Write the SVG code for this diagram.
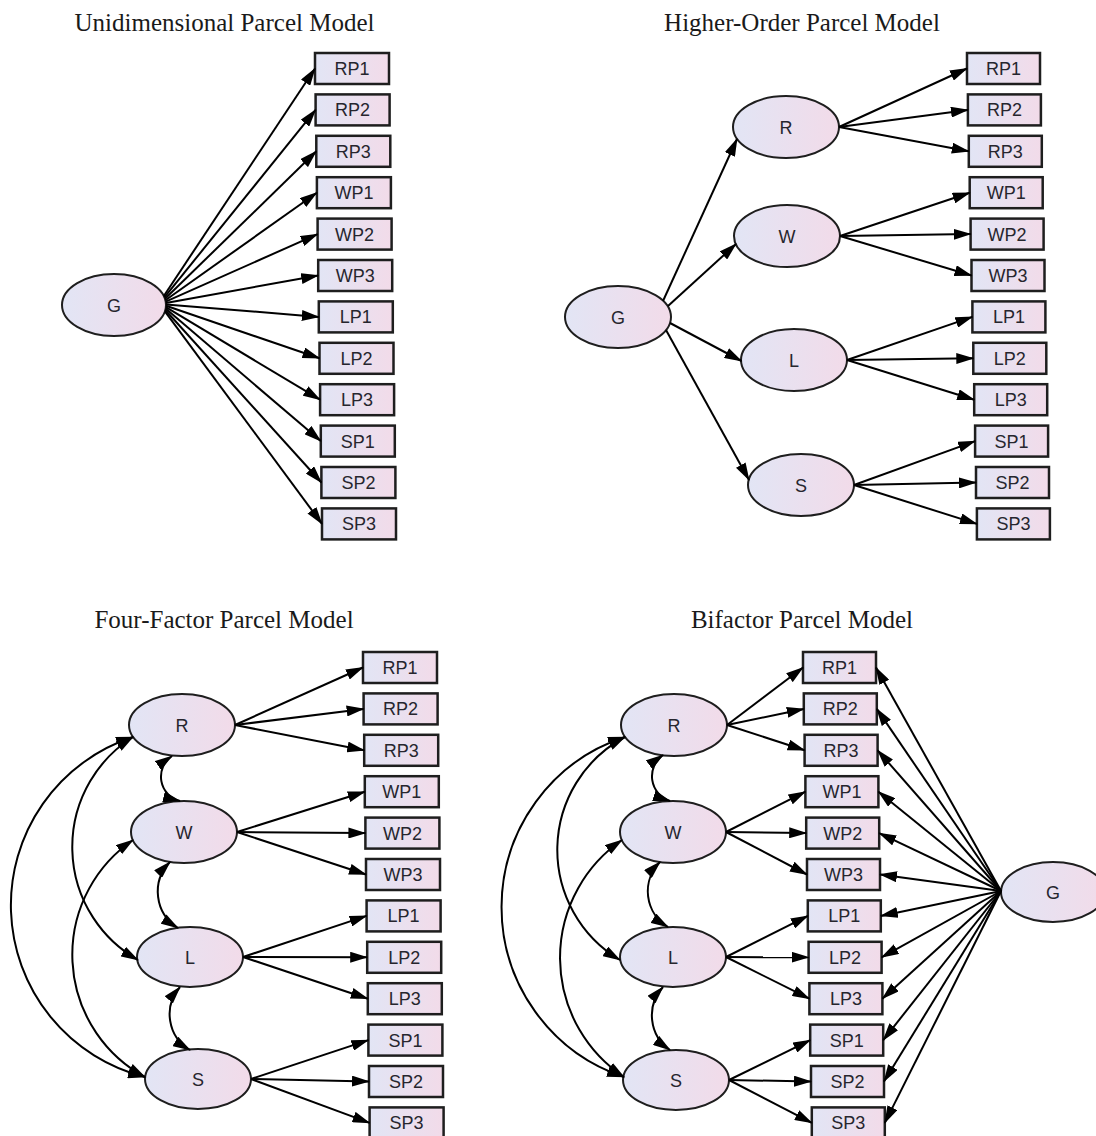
<svg xmlns="http://www.w3.org/2000/svg" width="1096" height="1136" viewBox="0 0 1096 1136">
<defs>
<linearGradient id="g" x1="0" y1="0" x2="1" y2="0">
<stop offset="0" stop-color="#e2e5f5"/>
<stop offset="1" stop-color="#f2dbe9"/>
</linearGradient>
<marker id="ah" markerUnits="userSpaceOnUse" markerWidth="18" markerHeight="11" refX="17" refY="5.5" orient="auto-start-reverse" viewBox="0 0 18 11">
<path d="M0,0 L18,5.5 L0,11 z" fill="#000"/>
</marker>
<style>
.box{fill:url(#g);stroke:#1e1e1e;stroke-width:2.5}
.lat{fill:url(#g);stroke:#1e1e1e;stroke-width:2}
.lbl{font-family:"Liberation Sans",Arial,sans-serif;font-size:18px;fill:#26262e;text-anchor:middle}
.title{font-family:"Liberation Serif","Times New Roman",serif;font-size:25px;fill:#1a1a1a;text-anchor:middle}
.arr{fill:none;stroke:#000;stroke-width:2;marker-end:url(#ah)}
.cov{fill:none;stroke:#000;stroke-width:2;marker-start:url(#ah);marker-end:url(#ah)}
</style>
</defs>
<rect width="1096" height="1136" fill="#fff"/>

<text class="title" x="224.5" y="31">Unidimensional Parcel Model</text>
<text class="title" x="802" y="31">Higher-Order Parcel Model</text>
<text class="title" x="224" y="628">Four-Factor Parcel Model</text>
<text class="title" x="802" y="628">Bifactor Parcel Model</text>

<!-- Q1 nodes -->
<g id="q1-G"><ellipse class="lat" cx="114" cy="305" rx="52" ry="31"/><text class="lbl" x="114" y="311.5">G</text></g>
<g id="q1-RP1"><rect class="box" x="315" y="53" width="74" height="31"/><text class="lbl" x="352" y="75">RP1</text></g>
<g id="q1-RP2"><rect class="box" x="315.6" y="94.4" width="74" height="31"/><text class="lbl" x="352.6" y="116.4">RP2</text></g>
<g id="q1-RP3"><rect class="box" x="316.3" y="135.8" width="74" height="31"/><text class="lbl" x="353.3" y="157.8">RP3</text></g>
<g id="q1-WP1"><rect class="box" x="316.9" y="177.2" width="74" height="31"/><text class="lbl" x="353.9" y="199.2">WP1</text></g>
<g id="q1-WP2"><rect class="box" x="317.6" y="218.6" width="74" height="31"/><text class="lbl" x="354.6" y="240.6">WP2</text></g>
<g id="q1-WP3"><rect class="box" x="318.2" y="260" width="74" height="31"/><text class="lbl" x="355.2" y="282">WP3</text></g>
<g id="q1-LP1"><rect class="box" x="318.8" y="301.4" width="74" height="31"/><text class="lbl" x="355.8" y="323.4">LP1</text></g>
<g id="q1-LP2"><rect class="box" x="319.5" y="342.8" width="74" height="31"/><text class="lbl" x="356.5" y="364.8">LP2</text></g>
<g id="q1-LP3"><rect class="box" x="320.1" y="384.2" width="74" height="31"/><text class="lbl" x="357.1" y="406.2">LP3</text></g>
<g id="q1-SP1"><rect class="box" x="320.8" y="425.6" width="74" height="31"/><text class="lbl" x="357.8" y="447.6">SP1</text></g>
<g id="q1-SP2"><rect class="box" x="321.4" y="467" width="74" height="31"/><text class="lbl" x="358.4" y="489">SP2</text></g>
<g id="q1-SP3"><rect class="box" x="322" y="508.4" width="74" height="31"/><text class="lbl" x="359" y="530.4">SP3</text></g>

<!-- Q2 nodes -->
<g id="q2-G"><ellipse class="lat" cx="618" cy="317" rx="53" ry="31"/><text class="lbl" x="618" y="323.5">G</text></g>
<g id="q2-R"><ellipse class="lat" cx="786" cy="127" rx="53" ry="31"/><text class="lbl" x="786" y="133.5">R</text></g>
<g id="q2-W"><ellipse class="lat" cx="787" cy="236" rx="53" ry="31"/><text class="lbl" x="787" y="242.5">W</text></g>
<g id="q2-L"><ellipse class="lat" cx="794" cy="360" rx="53" ry="31"/><text class="lbl" x="794" y="366.5">L</text></g>
<g id="q2-S"><ellipse class="lat" cx="801" cy="485" rx="53" ry="31"/><text class="lbl" x="801" y="491.5">S</text></g>
<g id="q2-RP1"><rect class="box" x="967" y="53" width="73" height="31"/><text class="lbl" x="1003.5" y="75">RP1</text></g>
<g id="q2-RP2"><rect class="box" x="967.9" y="94.4" width="73" height="31"/><text class="lbl" x="1004.4" y="116.4">RP2</text></g>
<g id="q2-RP3"><rect class="box" x="968.8" y="135.8" width="73" height="31"/><text class="lbl" x="1005.3" y="157.8">RP3</text></g>
<g id="q2-WP1"><rect class="box" x="969.7" y="177.2" width="73" height="31"/><text class="lbl" x="1006.2" y="199.2">WP1</text></g>
<g id="q2-WP2"><rect class="box" x="970.6" y="218.6" width="73" height="31"/><text class="lbl" x="1007.1" y="240.6">WP2</text></g>
<g id="q2-WP3"><rect class="box" x="971.5" y="260" width="73" height="31"/><text class="lbl" x="1008" y="282">WP3</text></g>
<g id="q2-LP1"><rect class="box" x="972.4" y="301.4" width="73" height="31"/><text class="lbl" x="1008.9" y="323.4">LP1</text></g>
<g id="q2-LP2"><rect class="box" x="973.3" y="342.8" width="73" height="31"/><text class="lbl" x="1009.8" y="364.8">LP2</text></g>
<g id="q2-LP3"><rect class="box" x="974.2" y="384.2" width="73" height="31"/><text class="lbl" x="1010.7" y="406.2">LP3</text></g>
<g id="q2-SP1"><rect class="box" x="975.1" y="425.6" width="73" height="31"/><text class="lbl" x="1011.6" y="447.6">SP1</text></g>
<g id="q2-SP2"><rect class="box" x="976" y="467" width="73" height="31"/><text class="lbl" x="1012.5" y="489">SP2</text></g>
<g id="q2-SP3"><rect class="box" x="976.9" y="508.4" width="73" height="31"/><text class="lbl" x="1013.4" y="530.4">SP3</text></g>

<!-- Q3 nodes -->
<g id="q3-R"><ellipse class="lat" cx="182" cy="725" rx="53" ry="31"/><text class="lbl" x="182" y="731.5">R</text></g>
<g id="q3-W"><ellipse class="lat" cx="184" cy="832" rx="53" ry="31"/><text class="lbl" x="184" y="838.5">W</text></g>
<g id="q3-L"><ellipse class="lat" cx="190" cy="957" rx="53" ry="30"/><text class="lbl" x="190" y="963.5">L</text></g>
<g id="q3-S"><ellipse class="lat" cx="198" cy="1079" rx="53" ry="30"/><text class="lbl" x="198" y="1085.5">S</text></g>
<g id="q3-RP1"><rect class="box" x="363" y="652" width="74" height="31"/><text class="lbl" x="400" y="674">RP1</text></g>
<g id="q3-RP2"><rect class="box" x="363.6" y="693.4" width="74" height="31"/><text class="lbl" x="400.6" y="715.4">RP2</text></g>
<g id="q3-RP3"><rect class="box" x="364.2" y="734.8" width="74" height="31"/><text class="lbl" x="401.2" y="756.8">RP3</text></g>
<g id="q3-WP1"><rect class="box" x="364.8" y="776.2" width="74" height="31"/><text class="lbl" x="401.8" y="798.2">WP1</text></g>
<g id="q3-WP2"><rect class="box" x="365.4" y="817.6" width="74" height="31"/><text class="lbl" x="402.4" y="839.6">WP2</text></g>
<g id="q3-WP3"><rect class="box" x="366" y="859" width="74" height="31"/><text class="lbl" x="403" y="881">WP3</text></g>
<g id="q3-LP1"><rect class="box" x="366.6" y="900.4" width="74" height="31"/><text class="lbl" x="403.6" y="922.4">LP1</text></g>
<g id="q3-LP2"><rect class="box" x="367.2" y="941.8" width="74" height="31"/><text class="lbl" x="404.2" y="963.8">LP2</text></g>
<g id="q3-LP3"><rect class="box" x="367.8" y="983.2" width="74" height="31"/><text class="lbl" x="404.8" y="1005.2">LP3</text></g>
<g id="q3-SP1"><rect class="box" x="368.4" y="1024.6" width="74" height="31"/><text class="lbl" x="405.4" y="1046.6">SP1</text></g>
<g id="q3-SP2"><rect class="box" x="369" y="1066" width="74" height="31"/><text class="lbl" x="406" y="1088">SP2</text></g>
<g id="q3-SP3"><rect class="box" x="369.6" y="1107.4" width="74" height="31"/><text class="lbl" x="406.6" y="1129.4">SP3</text></g>

<!-- Q4 nodes -->
<g id="q4-R"><ellipse class="lat" cx="674" cy="725" rx="53" ry="31"/><text class="lbl" x="674" y="731.5">R</text></g>
<g id="q4-W"><ellipse class="lat" cx="673" cy="832" rx="53" ry="31"/><text class="lbl" x="673" y="838.5">W</text></g>
<g id="q4-L"><ellipse class="lat" cx="673" cy="957" rx="53" ry="30"/><text class="lbl" x="673" y="963.5">L</text></g>
<g id="q4-S"><ellipse class="lat" cx="676" cy="1080" rx="53" ry="30"/><text class="lbl" x="676" y="1086.5">S</text></g>
<g id="q4-G"><ellipse class="lat" cx="1053" cy="892" rx="52" ry="30"/><text class="lbl" x="1053" y="898.5">G</text></g>
<g id="q4-RP1"><rect class="box" x="803" y="652" width="73" height="31"/><text class="lbl" x="839.5" y="674">RP1</text></g>
<g id="q4-RP2"><rect class="box" x="803.8" y="693.4" width="73" height="31"/><text class="lbl" x="840.3" y="715.4">RP2</text></g>
<g id="q4-RP3"><rect class="box" x="804.6" y="734.8" width="73" height="31"/><text class="lbl" x="841.1" y="756.8">RP3</text></g>
<g id="q4-WP1"><rect class="box" x="805.4" y="776.2" width="73" height="31"/><text class="lbl" x="841.9" y="798.2">WP1</text></g>
<g id="q4-WP2"><rect class="box" x="806.2" y="817.6" width="73" height="31"/><text class="lbl" x="842.7" y="839.6">WP2</text></g>
<g id="q4-WP3"><rect class="box" x="807" y="859" width="73" height="31"/><text class="lbl" x="843.5" y="881">WP3</text></g>
<g id="q4-LP1"><rect class="box" x="807.8" y="900.4" width="73" height="31"/><text class="lbl" x="844.3" y="922.4">LP1</text></g>
<g id="q4-LP2"><rect class="box" x="808.6" y="941.8" width="73" height="31"/><text class="lbl" x="845.1" y="963.8">LP2</text></g>
<g id="q4-LP3"><rect class="box" x="809.4" y="983.2" width="73" height="31"/><text class="lbl" x="845.9" y="1005.2">LP3</text></g>
<g id="q4-SP1"><rect class="box" x="810.2" y="1024.6" width="73" height="31"/><text class="lbl" x="846.7" y="1046.6">SP1</text></g>
<g id="q4-SP2"><rect class="box" x="811" y="1066" width="73" height="31"/><text class="lbl" x="847.5" y="1088">SP2</text></g>
<g id="q4-SP3"><rect class="box" x="811.8" y="1107.4" width="73" height="31"/><text class="lbl" x="848.3" y="1129.4">SP3</text></g>

<g id="connectors">
<g id="q1-edges">
<path class="arr" d="M163.8,296 L315,68.5"/>
<path class="arr" d="M164.4,297.4 L315.6,109.9"/>
<path class="arr" d="M165,298.8 L316.3,151.3"/>
<path class="arr" d="M165.4,300.2 L316.9,192.7"/>
<path class="arr" d="M165.7,301.6 L317.6,234.1"/>
<path class="arr" d="M165.9,303 L318.2,275.5"/>
<path class="arr" d="M166,304.4 L318.8,316.9"/>
<path class="arr" d="M166,305.8 L319.5,358.3"/>
<path class="arr" d="M165.9,307.2 L320.1,399.7"/>
<path class="arr" d="M165.6,308.6 L320.8,441.1"/>
<path class="arr" d="M165.3,310 L321.4,482.5"/>
<path class="arr" d="M164.9,311.4 L322,523.9"/>
</g>
<g id="q2-edges">
<path class="arr" d="M663,301 L737,139"/>
<path class="arr" d="M668,306 L736,244"/>
<path class="arr" d="M670,323 L741.5,361"/>
<path class="arr" d="M666,330 L749,480"/>
<path class="arr" d="M839,127 L967,68.5"/>
<path class="arr" d="M839,127 L967.9,109.9"/>
<path class="arr" d="M839,127 L968.8,151.3"/>
<path class="arr" d="M840,236 L969.7,192.7"/>
<path class="arr" d="M840,236 L970.6,234.1"/>
<path class="arr" d="M840,236 L971.5,275.5"/>
<path class="arr" d="M847,360 L972.4,316.9"/>
<path class="arr" d="M847,360 L973.3,358.3"/>
<path class="arr" d="M847,360 L974.2,399.7"/>
<path class="arr" d="M854,485 L975.1,441.1"/>
<path class="arr" d="M854,485 L976,482.5"/>
<path class="arr" d="M854,485 L976.9,523.9"/>
</g>
<g id="q3-edges">
<path class="arr" d="M235,725 L363,667.5"/>
<path class="arr" d="M235,725 L363.6,708.9"/>
<path class="arr" d="M235,725 L364.2,750.3"/>
<path class="arr" d="M237,832 L364.8,791.7"/>
<path class="arr" d="M237,832 L365.4,833.1"/>
<path class="arr" d="M237,832 L366,874.5"/>
<path class="arr" d="M243,957 L366.6,915.9"/>
<path class="arr" d="M243,957 L367.2,957.3"/>
<path class="arr" d="M243,957 L367.8,998.7"/>
<path class="arr" d="M251,1079 L368.4,1040.1"/>
<path class="arr" d="M251,1079 L369,1081.5"/>
<path class="arr" d="M251,1079 L369.6,1122.9"/>
<path class="cov" d="M172,756 A25,25 0 0,0 180,801"/>
<path class="cov" d="M170,862 A42.5,42.5 0 0,0 178,928"/>
<path class="cov" d="M180,987 A41.4,41.4 0 0,0 190,1050"/>
<path class="cov" d="M133,737 A177,177 0 0,0 145,1077"/>
<path class="cov" d="M133,737 A130,130 0 0,0 138,960"/>
<path class="cov" d="M133,840 A139,139 0 0,0 145,1077"/>
</g>
<g id="q4-edges">
<path class="arr" d="M727,725 L803,667.5"/>
<path class="arr" d="M727,725 L803.8,708.9"/>
<path class="arr" d="M727,725 L804.6,750.3"/>
<path class="arr" d="M726,832 L805.4,791.7"/>
<path class="arr" d="M726,832 L806.2,833.1"/>
<path class="arr" d="M726,832 L807,874.5"/>
<path class="arr" d="M726,957 L807.8,915.9"/>
<path class="arr" d="M726,957 L808.6,957.3"/>
<path class="arr" d="M726,957 L809.4,998.7"/>
<path class="arr" d="M729,1080 L810.2,1040.1"/>
<path class="arr" d="M729,1080 L811,1081.5"/>
<path class="arr" d="M729,1080 L811.8,1122.9"/>
<path class="arr" d="M1001,891 L876,667.5"/>
<path class="arr" d="M1001,891 L876.8,708.9"/>
<path class="arr" d="M1001,891 L877.6,750.3"/>
<path class="arr" d="M1001,891 L878.4,791.7"/>
<path class="arr" d="M1001,891 L879.2,833.1"/>
<path class="arr" d="M1001,891 L880,874.5"/>
<path class="arr" d="M1001,891 L880.8,915.9"/>
<path class="arr" d="M1001,891 L881.6,957.3"/>
<path class="arr" d="M1001,891 L882.4,998.7"/>
<path class="arr" d="M1001,891 L883.2,1040.1"/>
<path class="arr" d="M1001,891 L884,1081.5"/>
<path class="arr" d="M1001,891 L884.8,1122.9"/>
<path class="cov" d="M663,755 A26,26 0 0,0 670,801"/>
<path class="cov" d="M660,862 A41.5,41.5 0 0,0 668,927"/>
<path class="cov" d="M663,987 A42,42 0 0,0 670,1050"/>
<path class="cov" d="M625,737 A179,179 0 0,0 624,1077"/>
<path class="cov" d="M625,737 A128,128 0 0,0 620,960"/>
<path class="cov" d="M622,840 A143,143 0 0,0 624,1077"/>
</g>
</g>
</svg>
